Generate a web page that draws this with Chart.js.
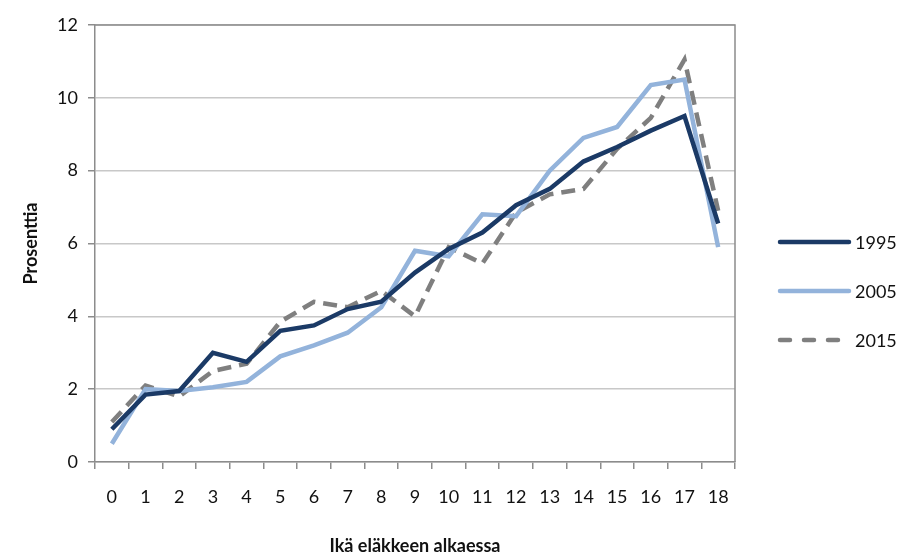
<!DOCTYPE html>
<html>
<head>
<meta charset="utf-8">
<script src="https://cdn.jsdelivr.net/npm/chart.js@4/dist/chart.umd.min.js"></script>
<style>
  html, body { margin: 0; padding: 0; background: #fff; }
  #wrap { width: 910px; height: 559px; position: relative; }
</style>
</head>
<body>
<div id="wrap"><canvas id="chart" width="910" height="559"></canvas></div>
<script>
const ages = ["0","1","2","3","4","5","6","7","8","9","10","11","12","13","14","15","16","17","18"];
const yearLabels = ["1995", "2005", "2015"];
const values1995 = [0.9, 1.85, 1.95, 3.0, 2.75, 3.6, 3.75, 4.2, 4.4, 5.2, 5.85, 6.3, 7.05, 7.5, 8.25, 8.65, 9.1, 9.5, 6.55];
const values2005 = [0.5, 2.0, 1.95, 2.05, 2.2, 2.9, 3.2, 3.55, 4.25, 5.8, 5.65, 6.8, 6.75, 8.0, 8.9, 9.2, 10.35, 10.5, 5.9];
const values2015 = [1.1, 2.1, 1.8, 2.5, 2.7, 3.85, 4.4, 4.25, 4.7, 4.0, 5.9, 5.45, 6.85, 7.35, 7.5, 8.6, 9.45, 11.05, 6.9];
const yTicks = [0, 2, 4, 6, 8, 10, 12];

const colors = ["#1b3a66", "#93b3db", "#7f7f7f"];
const dashes = [[], [], [14, 8]];
const font = "Lato, 'Open Sans', sans-serif";
const textColor = "#111";

// frame round the plot area + legend on the right
const extras = {
  id: "extras",
  afterDraw(chart) {
    const { ctx, chartArea: a } = chart;
    ctx.save();
    ctx.strokeStyle = "#8c8c8c";
    ctx.lineWidth = 1.5;
    ctx.beginPath();
    ctx.moveTo(a.left, a.top);
    ctx.lineTo(a.right, a.top);
    ctx.lineTo(a.right, a.bottom);
    ctx.stroke();

    chart.data.datasets.forEach((ds, i) => {
      const y = 242 + i * 49;
      ctx.strokeStyle = ds.borderColor;
      ctx.lineWidth = 4.5;
      ctx.lineCap = "round";
      ctx.setLineDash(ds.borderDash.length ? [10, 14] : []);
      ctx.beginPath();
      ctx.moveTo(780, y);
      ctx.lineTo(849, y);
      ctx.stroke();
      ctx.setLineDash([]);
      ctx.fillStyle = textColor;
      ctx.font = "18px " + font;
      ctx.textBaseline = "middle";
      ctx.fillText(ds.label, 855, y + 1);
    });
    ctx.restore();
  }
};

new Chart(document.getElementById("chart"), {
  type: "line",
  data: {
    labels: ages,
    datasets: [values1995, values2005, values2015].map((vals, i) => ({
      label: yearLabels[i],
      data: vals,
      borderColor: colors[i],
      backgroundColor: colors[i],
      borderWidth: 4.5,
      borderDash: dashes[i],
      pointRadius: 0,
      tension: 0,
      fill: false
    }))
  },
  options: {
    responsive: false,
    animation: false,
    layout: { padding: { left: 20, top: 25, right: 175, bottom: 0 } },
    plugins: { legend: { display: false }, tooltip: { enabled: false } },
    scales: {
      x: {
        offset: true,
        grid: { display: true, offset: true, drawOnChartArea: false, color: "#8c8c8c", tickLength: 7, lineWidth: 1.5 },
        border: { color: "#8c8c8c", width: 1.5 },
        ticks: { color: textColor, font: { family: font, size: 18 }, padding: 17, maxRotation: 0, autoSkip: false },
        title: { display: true, text: "Ikä eläkkeen alkaessa", color: textColor, font: { family: font, size: 18, weight: "bold" }, padding: { top: 0, bottom: 2 } },
        afterFit(scale) { scale.height = 97; }
      },
      y: {
        min: 0,
        max: 12,
        afterBuildTicks(scale) { scale.ticks = yTicks.map(v => ({ value: v })); },
        grid: { color: "#c8c8c8", lineWidth: 1.5, tickLength: 7, tickColor: "#8c8c8c" },
        border: { color: "#8c8c8c", width: 1.5 },
        ticks: { color: textColor, font: { family: font, size: 18 }, padding: 10 },
        title: { display: true, text: "Prosenttia", color: textColor, font: { family: font, size: 18, weight: "bold" }, padding: { top: 0, bottom: 0 } },
        afterFit(scale) { scale.width = 75; }
      }
    }
  },
  plugins: [extras]
});
</script>
</body>
</html>
